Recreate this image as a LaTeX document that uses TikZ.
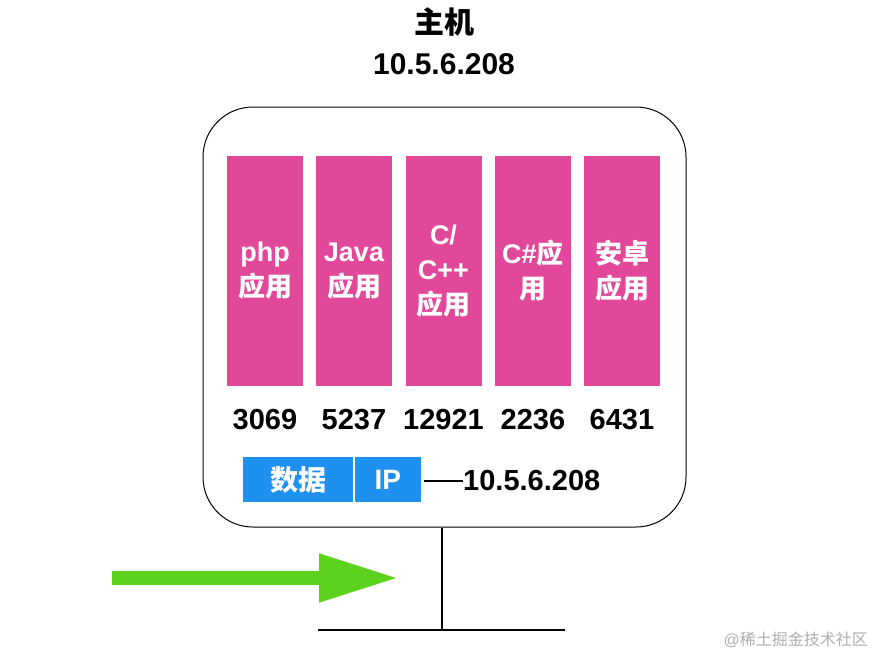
\documentclass[tikz,border=0pt]{standalone}
\usepackage{fontspec}
\setmainfont{Liberation Sans}
\newfontfamily\cjk{Noto Sans CJK SC}
\usetikzlibrary{arrows.meta}
\definecolor{appPink}{RGB}{225,72,153}
\definecolor{pktBlue}{RGB}{30,144,240}
\definecolor{flowGreen}{RGB}{92,210,30}
\definecolor{markGray}{RGB}{175,175,175}
\begin{document}
\begin{tikzpicture}[x=1pt,y=-1pt,
  appbox/.style={fill=appPink,minimum width=76pt,minimum height=230pt,inner sep=0pt,
     text=white,font=\fontsize{27}{35}\selectfont\bfseries,align=center},
  portnum/.style={font=\fontsize{29}{32}\selectfont\bfseries,inner sep=0pt},
  pkt/.style={fill=pktBlue,minimum height=45pt,inner sep=0pt,text=white,
     font=\fontsize{28}{32}\selectfont\bfseries},
  bigtxt/.style={font=\fontsize{30}{32}\selectfont\bfseries,inner sep=0pt},
  wire/.style={line width=2pt,black}]
\useasboundingbox[fill=white] (0,0) rectangle (876,659);
% title
\node[bigtxt] (ttl) at (444,22) {\cjk 主机};
\node[bigtxt] (ttlip) at (444,64) {10.5.6.208};
% host box
\node[draw=black,line width=1pt,rounded corners=50pt,minimum width=483pt,minimum height=420pt,inner sep=0pt] (host) at (444.5,317) {};
% app boxes
\node[appbox] (a1) at (265,271) {php\\{\cjk 应用}};
\node[appbox] (a2) at (354,271) {Java\\{\cjk 应用}};
\node[appbox] (a3) at (443.5,271) {C/\\C++\\{\cjk 应用}};
\node[appbox] (a4) at (533,271) {C\#{\cjk 应}\\{\cjk 用}};
\node[appbox] (a5) at (622,271) {{\cjk 安卓}\\{\cjk 应用}};
% ports
\node[portnum] (p1) at (265,420) {3069};
\node[portnum] (p2) at (354,420) {5237};
\node[portnum] (p3) at (443.5,420) {12921};
\node[portnum] (p4) at (533,420) {2236};
\node[portnum] (p5) at (622,420) {6431};
% packet
\node[pkt,minimum width=111pt] (data) at (298.5,479.5) {\cjk 数据};
\node[pkt,minimum width=67pt,anchor=west] (ip) at (data.east) {IP};
\draw[white,line width=1.5pt] (data.north east) -- (data.south east);
\node[font=\fontsize{29}{32}\selectfont\bfseries,inner sep=0pt,anchor=west] (ipval) at (463,481) {10.5.6.208};
\draw[line width=1.3pt] (ip.east |- ipval.west) ++(2,0) -- (ipval.west);
% network
\coordinate (busL) at (318,630);
\coordinate (busR) at (565,630);
\coordinate (busM) at (442,630);
\draw[wire] (busL) -- (busR);
\draw[wire] (busM) -- (busM |- host.south);
% incoming flow arrow
\coordinate (flowS) at (112,578);
\coordinate (flowE) at (399,578);
\draw[flowGreen,line width=14pt,-{Triangle[length=80pt,width=45pt]}] (flowS) -- (flowE);
% watermark
\node[text=markGray,font=\fontsize{16}{18}\selectfont,anchor=east,inner sep=0pt] (wm) at (868,640) {@{\cjk 稀土掘金技术社区}};
\end{tikzpicture}
\end{document}
